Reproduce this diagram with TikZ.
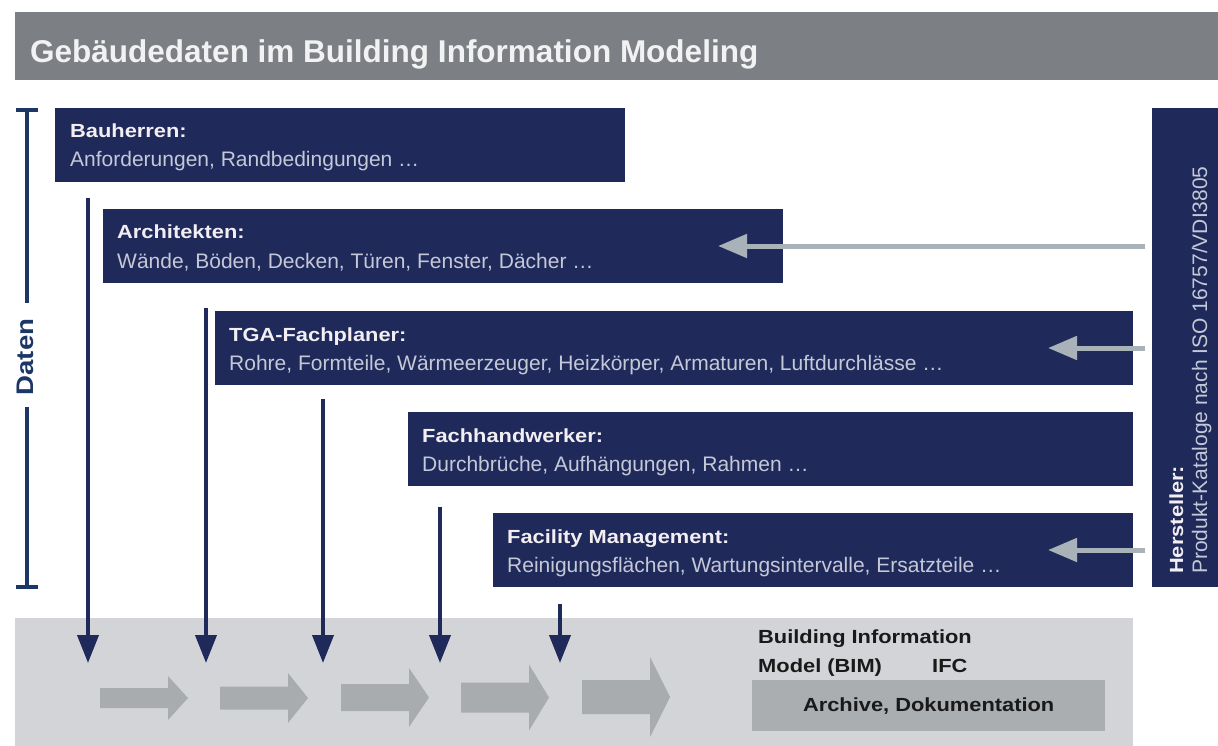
\documentclass[tikz,border=0pt]{standalone}
\usepackage{fontspec}
\setmainfont{Liberation Sans}
\newfontfamily\hb{Liberation Sans Bold}[FakeStretch=1.15]
\newfontfamily\tb{Liberation Sans Bold}
\usetikzlibrary{arrows.meta}
\definecolor{titlegray}{HTML}{7C7F84}
\definecolor{navy}{HTML}{1F2A5B}
\definecolor{txtgray}{HTML}{C5C8D6}
\definecolor{labelwhite}{HTML}{F2EEF2}
\definecolor{arrowgray}{HTML}{A9B2B8}
\definecolor{bandgray}{HTML}{D3D4D7}
\definecolor{blockgray}{HTML}{A8ACAF}
\definecolor{archgray}{HTML}{AAAEB1}
\definecolor{bracketblue}{HTML}{1C3766}
\begin{document}
\begin{tikzpicture}[x=1pt,y=-1pt,
  navybox/.style={fill=navy,draw=none,anchor=north west,inner sep=0pt,outer sep=0pt,minimum height=74pt},
  lbl/.style={font=\hb\fontsize{19}{22}\selectfont,text=labelwhite,inner sep=0pt,anchor=base west},
  txt/.style={font=\fontsize{21}{25}\selectfont,text=txtgray,inner sep=0pt,anchor=base west},
  bimtxt/.style={font=\hb\fontsize{19}{22}\selectfont,text=black!90,inner sep=0pt,anchor=base west},
  navyarrow/.style={draw=navy,line width=4pt,-{Triangle[length=28pt,width=21pt]}},
  grayarrow/.style={draw=arrowgray,line width=5pt,-{Triangle[length=29pt,width=23pt]}},
  bracketline/.style={draw=bracketblue,line width=3.5pt},
]
\useasboundingbox (0,0) rectangle (1218,746);
\fill[white] (0,0) rectangle (1218,746);

% title
\node[fill=titlegray,anchor=north west,inner sep=0pt,minimum width=1203pt,minimum height=68pt] (bar) at (15,12) {};
\node[font=\tb\fontsize{31.5}{36}\selectfont,text=white!95!black,inner sep=0pt,anchor=base west] (title) at (30,63) {Gebäudedaten im Building Information Modeling};

% bottom band
\node[fill=bandgray,anchor=north west,inner sep=0pt,minimum width=1118pt,minimum height=128pt] (band) at (15,618) {};

% block arrows
\foreach \xa/\h/\H/\c in {100/10/22/698, 220/11.5/25/698, 341/13.5/29.5/697.5, 461/15/33/697.5, 582/17/40/697}{
  \fill[blockgray] (\xa,\c-\h) -- (\xa+68,\c-\h) -- (\xa+68,\c-\H) -- (\xa+88,\c) -- (\xa+68,\c+\H) -- (\xa+68,\c+\h) -- (\xa,\c+\h) -- cycle;
}

% BIM texts
\node[bimtxt] (bim1) at (758,643) {Building Information};
\node[bimtxt] (bim2) at (758,672) {Model (BIM)};
\node[bimtxt] (ifc) at (932,672) {IFC};
\node[fill=archgray,anchor=north west,inner sep=0pt,minimum width=353pt,minimum height=51pt,font=\hb\fontsize{19}{22}\selectfont,text=black!90] (arch) at (752,680) {Archive, Dokumentation};

% boxes
\node[navybox,minimum width=570pt] (bau) at (55,108) {};
\node[lbl] (bauL) at (70,138) {Bauherren:};
\node[txt] (bauT) at (70,167) {Anforderungen, Randbedingungen …};

\node[navybox,minimum width=680pt] (arc) at (103,209) {};
\node[lbl] (arcL) at (117,239) {Architekten:};
\node[txt] (arcT) at (117,268) {Wände, Böden, Decken, Türen, Fenster, Dächer …};

\node[navybox,minimum width=918pt] (tga) at (215,311) {};
\node[lbl] (tgaL) at (229,341) {TGA-Fachplaner:};
\node[txt] (tgaT) at (229,370) {Rohre, Formteile, Wärmeerzeuger, Heizkörper, Armaturen, Luftdurchlässe …};

\node[navybox,minimum width=725pt] (fhw) at (408,412) {};
\node[lbl] (fhwL) at (422,442) {Fachhandwerker:};
\node[txt] (fhwT) at (422,471) {Durchbrüche, Aufhängungen, Rahmen …};

\node[navybox,minimum width=640pt] (fm) at (493,513) {};
\node[lbl] (fmL) at (507,543) {Facility Management:};
\node[txt] (fmT) at (507,572) {Reinigungsflächen, Wartungsintervalle, Ersatzteile …};

\node[navybox,minimum width=66pt,minimum height=479pt] (her) at (1152,108) {};
\node[font=\hb\fontsize{19}{22}\selectfont,text=labelwhite,inner sep=0pt,anchor=base west,rotate=90] (herL) at (1183,574) {Hersteller:};
\node[font=\fontsize{21}{25}\selectfont,text=txtgray,inner sep=0pt,anchor=base west,rotate=90] (herT) at (1207,574) {Produkt-Kataloge nach ISO 16757/VDI3805};

% Daten bracket
\node[font=\hb\fontsize{24}{28}\selectfont,text=bracketblue,inner sep=0pt,anchor=base,rotate=90] (daten) at (33,357) {Daten};
\coordinate (dt) at (27,110);
\coordinate (du) at (27,303);
\coordinate (dl) at (27,407);
\coordinate (db) at (27,587);
\coordinate (dtl) at (16,110);
\coordinate (dtr) at (38,110);
\coordinate (dbl) at (16,587);
\coordinate (dbr) at (38,587);
\draw[bracketline] (dt) -- (du);
\draw[bracketline] (dl) -- (db);
\draw[bracketline] (dtl) -- (dtr);
\draw[bracketline] (dbl) -- (dbr);

% navy arrows into the model
\coordinate (s1) at (88,198);  \coordinate (e1) at (88,663);
\coordinate (s2) at (206,308); \coordinate (e2) at (206,663);
\coordinate (s3) at (323,399); \coordinate (e3) at (323,663);
\coordinate (s4) at (440,507); \coordinate (e4) at (440,663);
\coordinate (s5) at (560,604); \coordinate (e5) at (560,663);
\foreach \i in {1,...,5}{\draw[navyarrow] (s\i) -- (e\i);}

% manufacturer arrows
\coordinate (h1) at (1145,246); \coordinate (t1) at (718,246);
\coordinate (h2) at (1145,348); \coordinate (t2) at (1048,348);
\coordinate (h3) at (1145,550); \coordinate (t3) at (1048,550);
\foreach \i in {1,2,3}{\draw[grayarrow] (h\i) -- (t\i);}
\end{tikzpicture}
\end{document}
